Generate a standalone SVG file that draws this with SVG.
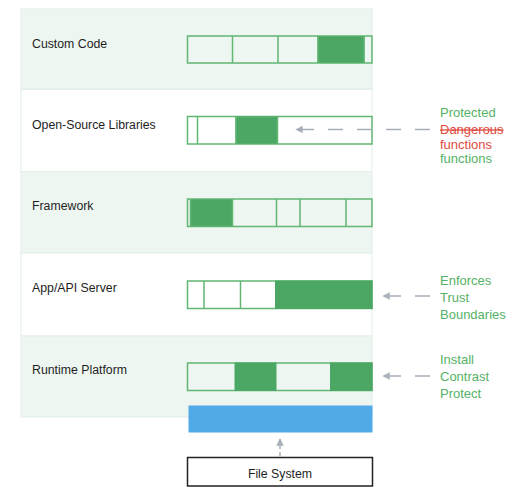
<svg xmlns="http://www.w3.org/2000/svg" width="518" height="499" viewBox="0 0 518 499">
<style>
.band-g{fill:#EEF6F1;stroke:#E2EFE6;stroke-width:1}
.band-w{fill:#FFFFFF;stroke:#E2EFE6;stroke-width:1}
.bar-g{fill:#EEF6F1;stroke:#60B672;stroke-width:1.5}
.bar-w{fill:#FFFFFF;stroke:#60B672;stroke-width:1.5}
.dark{fill:#4CA764;stroke:#4CA764;stroke-width:1}
.div{stroke:#60B672;stroke-width:1.5}
.lbl{font-family:"Liberation Sans",Arial,sans-serif;font-size:12.3px;fill:#1E1E1E}
.note{font-family:"Liberation Sans",Arial,sans-serif;font-size:13px;fill:#55B266}
.red{fill:#DE4A3E;text-decoration:line-through}
.red2{fill:#DE4A3E}
.conn{stroke:#A8AFBB;stroke-width:1.5;fill:none;stroke-dasharray:15 14}
.connv{stroke:#A8AFBB;stroke-width:1.5;fill:none;stroke-dasharray:5 3}
</style>
<defs>
<marker id="ah" viewBox="0 0 10 10" refX="9" refY="5" markerWidth="5" markerHeight="5" orient="auto" markerUnits="strokeWidth">
<path d="M0,0 L10,5 L0,10 z" fill="#A8AFBB"/>
</marker>
</defs>
<g id="layer-custom-code">
<rect class="band-g" x="21" y="9" width="351" height="80"/>
<text class="lbl" x="32" y="47.5">Custom Code</text>
<rect class="bar-g" x="187.5" y="36" width="184.5" height="27"/>
<rect class="dark" x="318" y="36.75" width="46" height="25.5"/>
<line class="div" x1="232.5" y1="36" x2="232.5" y2="63"/>
<line class="div" x1="278" y1="36" x2="278" y2="63"/>
<line class="div" x1="318" y1="36" x2="318" y2="63"/>
<line class="div" x1="364" y1="36" x2="364" y2="63"/>
</g>
<g id="layer-open-source">
<rect class="band-w" x="21" y="89.5" width="351" height="82"/>
<text class="lbl" x="32" y="128.5">Open-Source Libraries</text>
<rect class="bar-w" x="187.5" y="116.5" width="184.5" height="27.5"/>
<rect class="dark" x="236" y="117.25" width="41.5" height="26"/>
<line class="div" x1="197.5" y1="116.5" x2="197.5" y2="144"/>
<line class="div" x1="236" y1="116.5" x2="236" y2="144"/>
<line class="div" x1="277.5" y1="116.5" x2="277.5" y2="144"/>
</g>
<g id="layer-framework">
<rect class="band-g" x="21" y="171.5" width="351" height="81.5"/>
<text class="lbl" x="32" y="210">Framework</text>
<rect class="bar-g" x="187.5" y="199" width="184.5" height="27.5"/>
<rect class="dark" x="190.5" y="199.75" width="42" height="26"/>
<line class="div" x1="190.5" y1="199" x2="190.5" y2="226.5"/>
<line class="div" x1="232.5" y1="199" x2="232.5" y2="226.5"/>
<line class="div" x1="276.5" y1="199" x2="276.5" y2="226.5"/>
<line class="div" x1="300" y1="199" x2="300" y2="226.5"/>
<line class="div" x1="346" y1="199" x2="346" y2="226.5"/>
</g>
<g id="layer-app-server">
<rect class="band-w" x="21" y="253" width="351" height="83"/>
<text class="lbl" x="32" y="292">App/API Server</text>
<rect class="bar-w" x="187.5" y="281" width="184.5" height="27.5"/>
<rect class="dark" x="275.5" y="281" width="96.5" height="27.5"/>
<line class="div" x1="204" y1="281" x2="204" y2="308.5"/>
<line class="div" x1="240.5" y1="281" x2="240.5" y2="308.5"/>
</g>
<g id="layer-runtime">
<rect class="band-g" x="21" y="336" width="351" height="81"/>
<text class="lbl" x="32" y="374">Runtime Platform</text>
<rect class="bar-g" x="187.5" y="363" width="184.5" height="27.5"/>
<rect class="dark" x="235" y="363" width="41" height="27.5"/>
<rect class="dark" x="330.5" y="363" width="41.5" height="27.5"/>
</g>
<g id="blue-layer">
<rect x="188.5" y="405.5" width="184" height="27" fill="#4FAAE7"/>
</g>
<g id="file-system">
<rect x="187.5" y="457.5" width="185" height="28.5" fill="#FFFFFF" stroke="#222222" stroke-width="1.5"/>
<text class="lbl" x="280" y="478" text-anchor="middle">File System</text>
</g>
<g id="notes">
<text class="note" x="440" y="117">Protected</text>
<text class="note red" x="440" y="134">Dangerous</text>
<text class="note red2" x="440" y="148.5">functions</text>
<text class="note" x="440" y="162.5">functions</text>
<text class="note" x="440" y="284.5">Enforces</text>
<text class="note" x="440" y="301.5">Trust</text>
<text class="note" x="440" y="318.5">Boundaries</text>
<text class="note" x="440" y="364">Install</text>
<text class="note" x="440" y="381">Contrast</text>
<text class="note" x="440" y="398">Protect</text>
</g>
<g id="connectors">
<line class="conn" x1="430" y1="129.5" x2="296" y2="129.5" marker-end="url(#ah)"/>
<line class="conn" x1="430" y1="296" x2="383" y2="296" marker-end="url(#ah)"/>
<line class="conn" x1="430" y1="376" x2="383" y2="376" marker-end="url(#ah)"/>
<line class="connv" x1="280" y1="457" x2="280" y2="439" marker-end="url(#ah)"/>
</g>
</svg>
